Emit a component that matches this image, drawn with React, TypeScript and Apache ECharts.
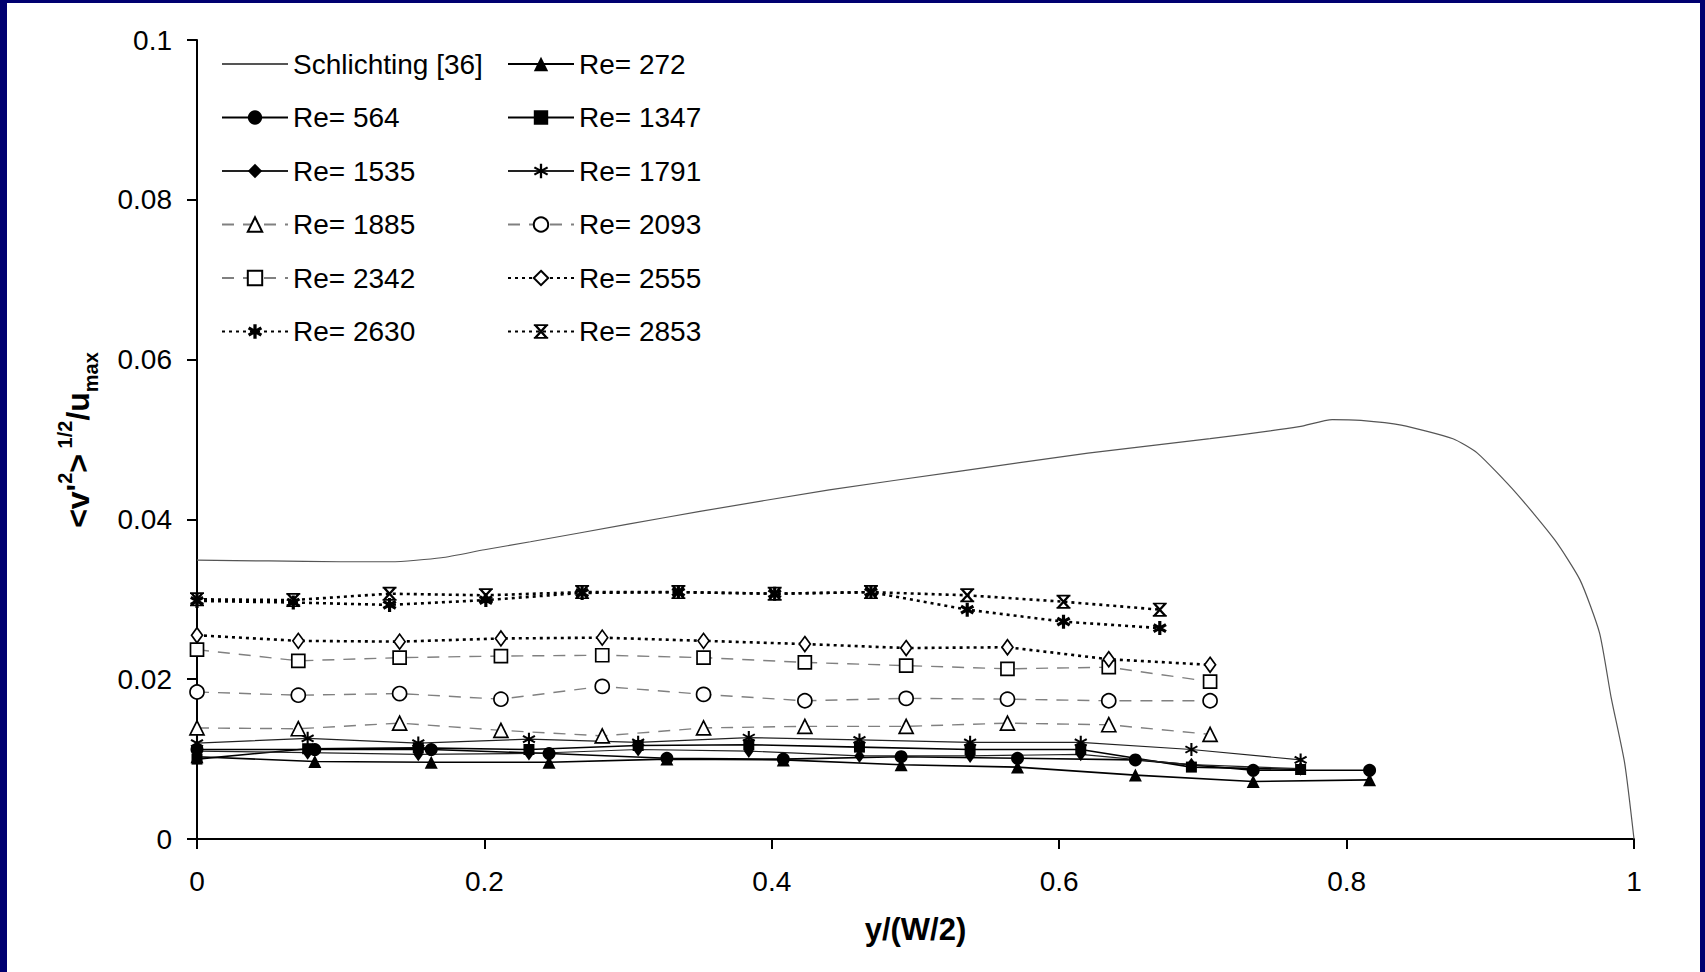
import React, { useEffect, useRef } from "react";
import * as echarts from "echarts";

// ---------- data ----------
const schX = [0, 0.05, 0.1, 0.135, 0.17, 0.2, 0.232, 0.3, 0.35, 0.44, 0.53, 0.62, 0.705, 0.767, 0.79, 0.81, 0.838, 0.874, 0.891, 0.918, 0.945, 0.9625, 0.976, 0.984, 0.9935, 1.0];
const schY = [0.0349, 0.0348, 0.0347, 0.0347, 0.0352, 0.0362, 0.0372, 0.0394, 0.041, 0.0437, 0.046, 0.0483, 0.0501, 0.0516, 0.0525, 0.0524, 0.0518, 0.0501, 0.0483, 0.0433, 0.0374, 0.0324, 0.0258, 0.0178, 0.0095, 0];

const xA = [0, 0.082, 0.163, 0.245, 0.327, 0.408, 0.49, 0.571, 0.653, 0.735, 0.816]; // Re 272, 564
const xB = [0, 0.077, 0.154, 0.231, 0.307, 0.384, 0.461, 0.538, 0.615, 0.692, 0.768]; // Re 1347, 1535, 1791
const xC = [0, 0.0705, 0.141, 0.2115, 0.282, 0.3525, 0.423, 0.4935, 0.564, 0.6345, 0.705]; // Re 1885..2555
const xD = [0, 0.067, 0.134, 0.201, 0.268, 0.335, 0.402, 0.469, 0.536, 0.603, 0.67]; // Re 2630, 2853

const y272 = [0.0103, 0.0097, 0.0096, 0.0096, 0.01, 0.0099, 0.0093, 0.009, 0.008, 0.0072, 0.0074];
const y564 = [0.0112, 0.0112, 0.0112, 0.0107, 0.0101, 0.01, 0.0103, 0.0101, 0.0099, 0.0086, 0.0086];
const y1347 = [0.01, 0.0113, 0.0114, 0.0112, 0.0117, 0.0118, 0.0115, 0.0112, 0.0112, 0.009, 0.0087];
const y1535 = [0.011, 0.0108, 0.0106, 0.0107, 0.0112, 0.011, 0.0104, 0.0104, 0.0106, 0.0093, 0.0088];
const y1791 = [0.012, 0.0126, 0.012, 0.0125, 0.0121, 0.0127, 0.0124, 0.0121, 0.0121, 0.0112, 0.0099];
const y1885 = [0.0139, 0.0138, 0.0145, 0.0136, 0.0129, 0.0139, 0.0141, 0.0141, 0.0145, 0.0143, 0.0131];
const y2093 = [0.0184, 0.018, 0.0182, 0.0175, 0.0191, 0.0181, 0.0173, 0.0176, 0.0175, 0.0173, 0.0173];
const y2342 = [0.0237, 0.0223, 0.0227, 0.0229, 0.023, 0.0227, 0.0221, 0.0217, 0.0213, 0.0215, 0.0197];
const y2555 = [0.0255, 0.0248, 0.0247, 0.0251, 0.0252, 0.0248, 0.0244, 0.0239, 0.024, 0.0225, 0.0218];
const y2630 = [0.0298, 0.0296, 0.0293, 0.0299, 0.0308, 0.0309, 0.0307, 0.0309, 0.0287, 0.0272, 0.0264];
const y2853 = [0.03, 0.0299, 0.0307, 0.0305, 0.0309, 0.0309, 0.0307, 0.0309, 0.0305, 0.0297, 0.0287];

const xTicks = ["0", "0.2", "0.4", "0.6", "0.8", "1"];
const yTicks = ["0", "0.02", "0.04", "0.06", "0.08", "0.1"];

const names = [
  "Schlichting [36]", "Re= 272", "Re= 564", "Re= 1347", "Re= 1535", "Re= 1791",
  "Re= 1885", "Re= 2093", "Re= 2342", "Re= 2555", "Re= 2630", "Re= 2853",
];

// ---------- symbol shapes ----------
function bar(x1: number, y1: number, x2: number, y2: number, w: number) {
  const dx = x2 - x1, dy = y2 - y1;
  const len = Math.sqrt(dx * dx + dy * dy);
  const nx = (-dy / len) * (w / 2), ny = (dx / len) * (w / 2);
  const p = [
    [x1 + nx, y1 + ny], [x2 + nx, y2 + ny], [x2 - nx, y2 - ny], [x1 - nx, y1 - ny],
  ].map((q) => q.map((v) => v.toFixed(3)).join(","));
  return `M${p[0]}L${p[1]}L${p[2]}L${p[3]}Z`;
}
const asterisk = "path://" + bar(5, 0, 5, 10, 1.5) + bar(0.7, 2.5, 9.3, 7.5, 1.5) + bar(0.7, 7.5, 9.3, 2.5, 1.5);
const asteriskBold = "path://" + bar(5, 0, 5, 10, 2.2) + bar(0.7, 2.5, 9.3, 7.5, 2.2) + bar(0.7, 7.5, 9.3, 2.5, 2.2);
const xcap = "path://" + bar(1.8, 0.8, 8.2, 9.2, 1.5) + bar(8.2, 0.8, 1.8, 9.2, 1.5) + bar(0.8, 0.6, 9.2, 0.6, 1.2) + bar(0.8, 9.4, 9.2, 9.4, 1.2);

const FONT = '"Liberation Sans", Arial, Helvetica, sans-serif';

const zip = (xs: number[], ys: number[]) => xs.map((x, i) => [x, ys[i]]);

function mk(name: string, xs: number[], ys: number[], symbol: string, size: any, line: any, filled: boolean) {
  return {
    name,
    type: "line",
    data: zip(xs, ys),
    symbol,
    symbolSize: size,
    showSymbol: true,
    clip: false,
    lineStyle: line,
    itemStyle: filled
      ? { color: "#000", borderWidth: 0 }
      : { color: "#fff", borderColor: "#000", borderWidth: 1.7 },
    emphasis: { disabled: true },
    z: 3,
  };
}

const solid = { color: "#000", width: 1.6, type: "solid" };
const solidThin = { color: "#222", width: 1.2, type: "solid" };
const dashed = { color: "#808080", width: 1.4, type: [12, 9] };
const dotted = { color: "#000", width: 2.6, type: [3, 4] };

export default function App() {
  const ref = useRef<HTMLDivElement>(null);
  useEffect(() => {
    const chart = echarts.init(ref.current!, null, { renderer: "svg" });
    const series: any[] = [
      {
        name: names[0],
        type: "line",
        data: zip(schX, schY),
        symbol: "circle",
        symbolSize: 0,
        showSymbol: false,
        smooth: 0.2,
        lineStyle: { color: "#555", width: 1.2 },
        itemStyle: { color: "rgba(0,0,0,0)" },
        emphasis: { disabled: true },
        z: 2,
      },
      mk(names[1], xA, y272, "triangle", 13, solid, true),
      mk(names[2], xA, y564, "circle", 13, solid, true),
      mk(names[3], xB, y1347, "rect", 11, solid, true),
      mk(names[4], xB, y1535, "diamond", [10, 14], solidThin, true),
      mk(names[5], xB, y1791, asterisk, 13, solidThin, true),
      mk(names[6], xC, y1885, "triangle", 14, dashed, false),
      mk(names[7], xC, y2093, "circle", 14, dashed, false),
      mk(names[8], xC, y2342, "rect", 13, dashed, false),
      mk(names[9], xC, y2555, "diamond", [11, 15], dotted, false),
      mk(names[10], xD, y2630, asteriskBold, 14, dotted, true),
      mk(names[11], xD, y2853, xcap, 14, dotted, true),
    ];
    const legendCommon = {
      orient: "vertical",
      top: 41,
      itemWidth: 66,
      itemHeight: 18,
      itemGap: 23.5,
      selectedMode: false,
      textStyle: { fontFamily: FONT, fontSize: 28, color: "#000", lineHeight: 30 },
    };
    chart.setOption({
      animation: false,
      backgroundColor: "#fff",
      grid: { left: 190, right: 66, top: 37, bottom: 133 },
      legend: [
        {
          ...legendCommon,
          left: 209,
          data: [
            { name: names[0], itemStyle: { color: "rgba(0,0,0,0)", borderWidth: 0 } },
            names[2], names[4], names[6], names[8], names[10],
          ],
        },
        {
          ...legendCommon,
          left: 495,
          data: [names[1], names[3], names[5], names[7], names[9], names[11]],
        },
      ],
      xAxis: {
        type: "value",
        min: 0,
        max: 1,
        interval: 0.2,
        splitLine: { show: false },
        axisLine: { lineStyle: { color: "#000", width: 2 } },
        axisTick: { inside: false, length: 10, lineStyle: { color: "#000", width: 2 } },
        axisLabel: {
          fontFamily: FONT, fontSize: 28, color: "#000", margin: 28,
          formatter: (v: number) => xTicks[Math.round(v / 0.2)],
        },
        name: "y/(W/2)",
        nameLocation: "middle",
        nameGap: 75,
        nameTextStyle: { fontFamily: FONT, fontSize: 31, fontWeight: "bold", color: "#000" },
      },
      yAxis: {
        type: "value",
        min: 0,
        max: 0.1,
        interval: 0.02,
        splitLine: { show: false },
        axisLine: { lineStyle: { color: "#000", width: 2 } },
        axisTick: { inside: false, length: 10, lineStyle: { color: "#000", width: 2 } },
        axisLabel: {
          fontFamily: FONT, fontSize: 28, color: "#000", margin: 25,
          formatter: (v: number) => yTicks[Math.round(v / 0.02)],
        },
      },
      graphic: [
        {
          type: "text",
          x: 71,
          y: 437,
          rotation: Math.PI / 2,
          style: {
            text: "{b|<v'}{s|2}{b|>}{s| 1/2}{b|/u}{u|max}",
            align: "center",
            verticalAlign: "middle",
            rich: {
              b: { fontFamily: FONT, fontSize: 32, fontWeight: "bold", fill: "#000", verticalAlign: "middle", lineHeight: 46 },
              s: { fontFamily: FONT, fontSize: 20, fontWeight: "bold", fill: "#000", verticalAlign: "top", lineHeight: 46 },
              u: { fontFamily: FONT, fontSize: 20, fontWeight: "bold", fill: "#000", verticalAlign: "bottom", lineHeight: 36 },
            },
          },
        },
      ],
      series,
    });
    return () => chart.dispose();
  }, []);
  return (
    <div style={{ position: "fixed", left: 0, top: 0, width: 1705, height: 972, background: "#000070" }}>
      <div ref={ref} style={{ position: "absolute", left: 7, top: 3, width: 1693, height: 969, background: "#fff" }} />
    </div>
  );
}
